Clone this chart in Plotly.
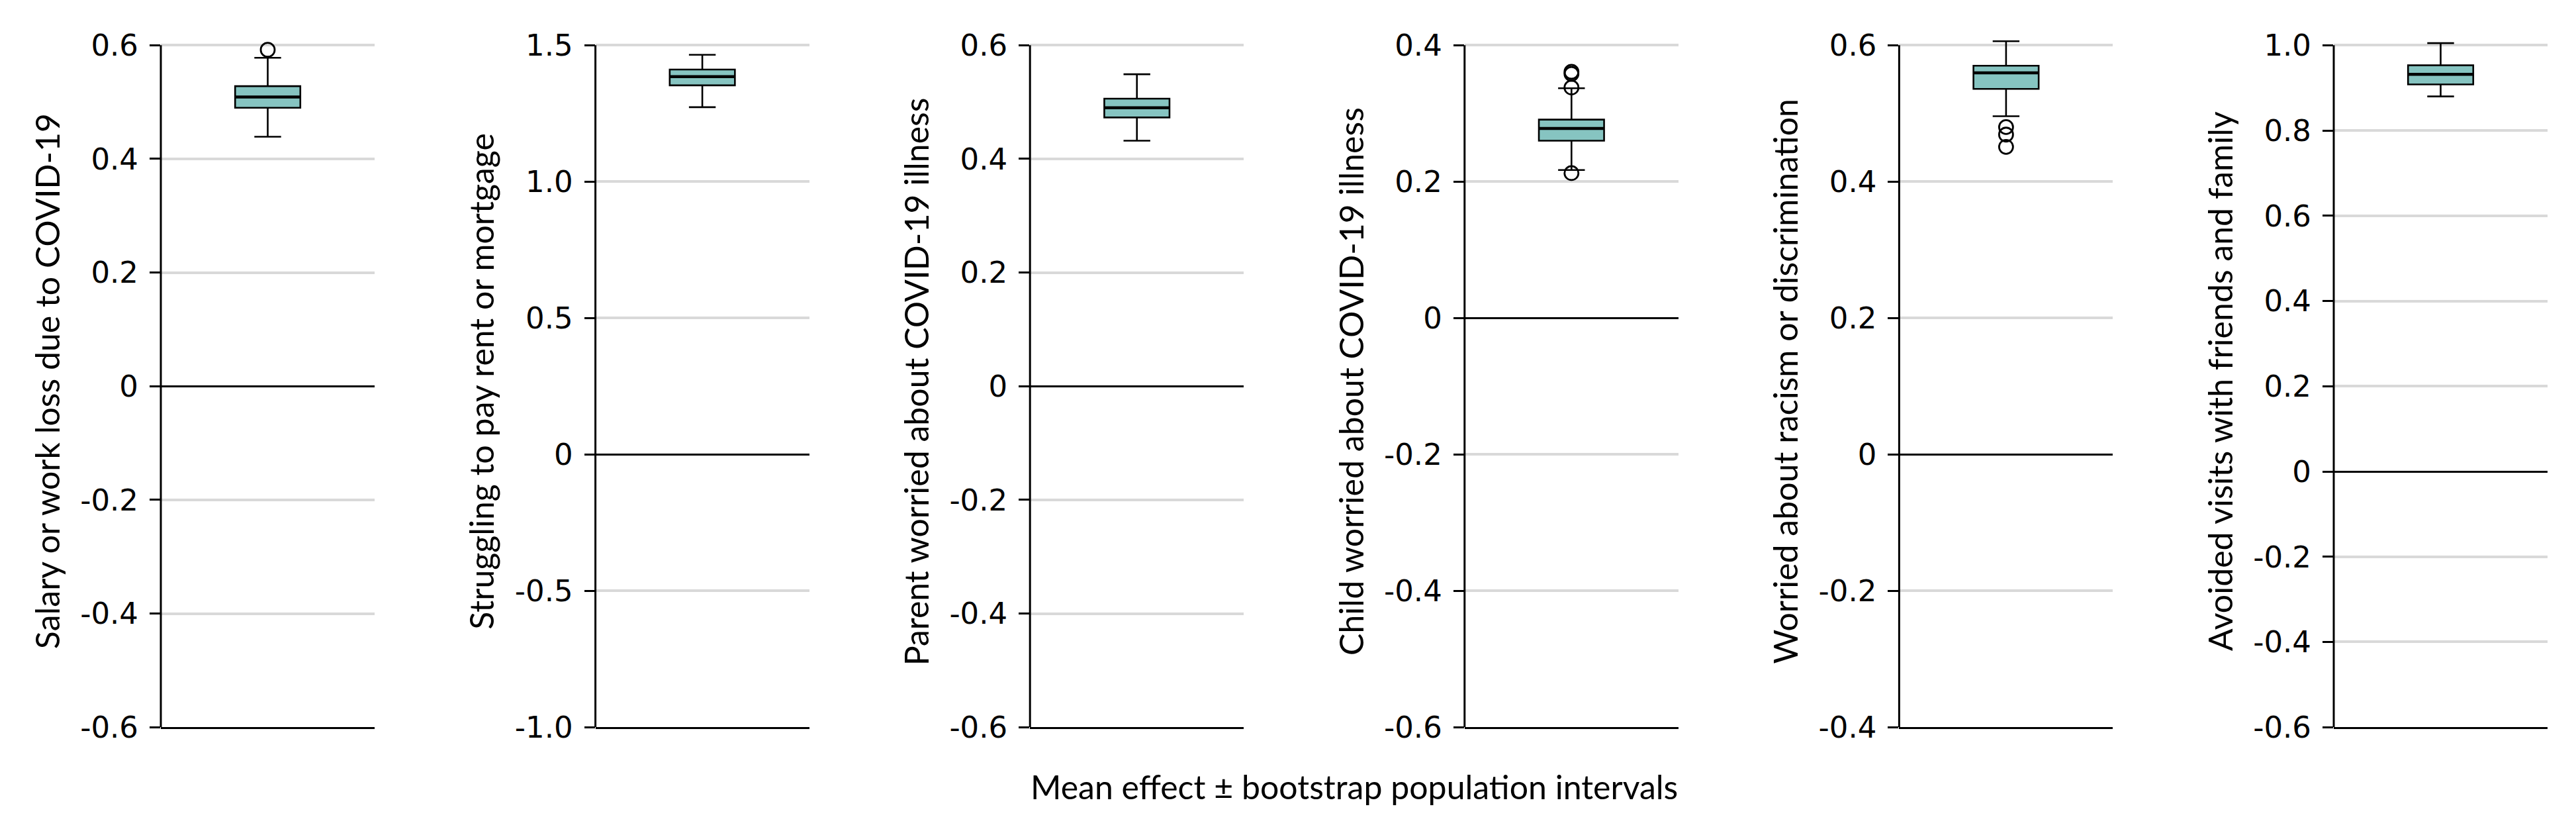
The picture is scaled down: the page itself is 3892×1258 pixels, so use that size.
import plotly.graph_objects as go

# ---------------- data ----------------
titles = [
    "Salary or work loss due to COVID-19",
    "Struggling to pay rent or mortgage",
    "Parent worried about COVID-19 illness",
    "Child worried about COVID-19 illness",
    "Worried about racism or discrimination",
    "Avoided visits with friends and family",
]
lower_fence = [0.439, 1.273, 0.432, 0.217, 0.496, 0.880]
q1_vals = [0.490, 1.353, 0.473, 0.260, 0.536, 0.908]
median_vals = [0.509, 1.385, 0.490, 0.278, 0.5595, 0.932]
q3_vals = [0.528, 1.411, 0.506, 0.291, 0.570, 0.953]
upper_fence = [0.578, 1.465, 0.549, 0.337, 0.606, 1.005]
outlier_vals = [[0.592], [], [], [0.361, 0.358, 0.338, 0.2125], [0.480, 0.469, 0.451], []]

y_ranges = [(-0.6, 0.6), (-1.0, 1.5), (-0.6, 0.6), (-0.6, 0.4), (-0.4, 0.6), (-0.6, 1.0)]
tick_vals = [
    [-0.6, -0.4, -0.2, 0, 0.2, 0.4, 0.6],
    [-1.0, -0.5, 0, 0.5, 1.0, 1.5],
    [-0.6, -0.4, -0.2, 0, 0.2, 0.4, 0.6],
    [-0.6, -0.4, -0.2, 0, 0.2, 0.4],
    [-0.4, -0.2, 0, 0.2, 0.4, 0.6],
    [-0.6, -0.4, -0.2, 0, 0.2, 0.4, 0.6, 0.8, 1.0],
]
tick_text = [
    ["-0.6", "-0.4", "-0.2", "0", "0.2", "0.4", "0.6"],
    ["-1.0", "-0.5", "0", "0.5", "1.0", "1.5"],
    ["-0.6", "-0.4", "-0.2", "0", "0.2", "0.4", "0.6"],
    ["-0.6", "-0.4", "-0.2", "0", "0.2", "0.4"],
    ["-0.4", "-0.2", "0", "0.2", "0.4", "0.6"],
    ["-0.6", "-0.4", "-0.2", "0", "0.2", "0.4", "0.6", "0.8", "1.0"],
]
x_title = "Mean effect \u00b1 bootstrap population intervals"

# ---------------- layout geometry ----------------
PAGE_OFF = 8          # browser body margin
VSCALE = 0.98         # observed vertical scale of the photographed page
W, H = 3892 - 2 * PAGE_OFF, 1258 - 2 * PAGE_OFF


def vy(y_target):
    """target picture y -> figure y"""
    return y_target / VSCALE - PAGE_OFF


AX_LEFT0 = 243.0 - PAGE_OFF
AX_STEP = 656.6
PLOT_W = 323.0
PLOT_TOP = vy(68.3)
PLOT_BOT = vy(1100.0)
XTITLE_Y = vy(1190.0)
YTITLE_Y = vy(577.0)
YTITLE_OFF = 172.0
PAD = 0.03  # headroom so whisker caps above top tick are not clipped
pad_px = PAD * (PLOT_BOT - PLOT_TOP)

BOX_FILL = "#86C4C1"
BOX_W = 0.305
TICK_FONT = dict(family="DejaVu Sans", size=45, color="black")
TITLE_FONT = dict(family="Lato", size=50, color="black")

fig = go.Figure()
layout = dict(
    width=W, height=H, autosize=False,
    margin=dict(l=0, r=0, t=0, b=0),
    paper_bgcolor="white", plot_bgcolor="white",
    showlegend=False,
)
shapes = []
annotations = []

y_dom = [(H - PLOT_BOT) / H, (H - PLOT_TOP + pad_px) / H]

for i in range(6):
    n = i + 1
    xs = "" if n == 1 else str(n)
    x0 = AX_LEFT0 + i * AX_STEP
    x1 = x0 + PLOT_W
    lo, hi = y_ranges[i]

    fig.add_trace(go.Box(
        x=[0], q1=[q1_vals[i]], median=[median_vals[i]], q3=[q3_vals[i]],
        lowerfence=[lower_fence[i]], upperfence=[upper_fence[i]],
        boxpoints=False, width=BOX_W, whiskerwidth=0.41,
        fillcolor=BOX_FILL, line=dict(color="black", width=2.6),
        xaxis="x" + xs, yaxis="y" + xs, hoverinfo="skip",
    ))
    # thicker median bar drawn on top (degenerate box at the median)
    fig.add_trace(go.Box(
        x=[0], q1=[median_vals[i]], median=[median_vals[i]], q3=[median_vals[i]],
        lowerfence=[median_vals[i]], upperfence=[median_vals[i]],
        boxpoints=False, width=BOX_W * 0.985, whiskerwidth=0,
        fillcolor="rgba(0,0,0,0)", line=dict(color="black", width=4.5),
        xaxis="x" + xs, yaxis="y" + xs, hoverinfo="skip",
    ))
    if outlier_vals[i]:
        fig.add_trace(go.Scatter(
            x=[0] * len(outlier_vals[i]), y=outlier_vals[i], mode="markers",
            marker=dict(symbol="circle-open", size=21, color="black",
                        line=dict(width=2.8, color="black")),
            xaxis="x" + xs, yaxis="y" + xs, hoverinfo="skip", cliponaxis=False,
        ))

    layout["xaxis" + xs] = dict(
        domain=[x0 / W, x1 / W], anchor="y" + xs, range=[-0.5, 0.5],
        showgrid=False, zeroline=False, showticklabels=False, ticks="",
        showline=True, linecolor="black", linewidth=3, fixedrange=True,
    )
    layout["yaxis" + xs] = dict(
        domain=y_dom, anchor="x" + xs,
        range=[lo, hi + PAD * (hi - lo)],
        tickmode="array", tickvals=tick_vals[i], ticktext=tick_text[i],
        tickfont=TICK_FONT, ticks="outside", ticklen=16, tickwidth=3,
        tickcolor="black", ticklabelstandoff=8,
        showgrid=True, gridcolor="#d9d9d9", gridwidth=4,
        zeroline=True, zerolinecolor="black", zerolinewidth=2.5,
        showline=False, fixedrange=True,
    )
    shapes.append(dict(
        type="line", xref="x" + xs + " domain", x0=0, x1=0,
        yref="y" + xs, y0=lo, y1=hi,
        line=dict(color="black", width=3), layer="above",
    ))
    annotations.append(dict(
        text=titles[i], textangle=-90, showarrow=False,
        xref="paper", yref="paper",
        x=(x0 - YTITLE_OFF) / W, y=(H - YTITLE_Y) / H,
        xanchor="center", yanchor="middle", font=TITLE_FONT,
    ))

annotations.append(dict(
    text=x_title, showarrow=False, xref="paper", yref="paper",
    x=(AX_LEFT0 + 5 * AX_STEP + PLOT_W + AX_LEFT0) / 2 / W,
    y=(H - XTITLE_Y) / H, xanchor="center", yanchor="middle",
    font=dict(family="Lato", size=50, color="black"),
))

layout["shapes"] = shapes
layout["annotations"] = annotations
fig.update_layout(**layout)
fig.write_html("out.html")
